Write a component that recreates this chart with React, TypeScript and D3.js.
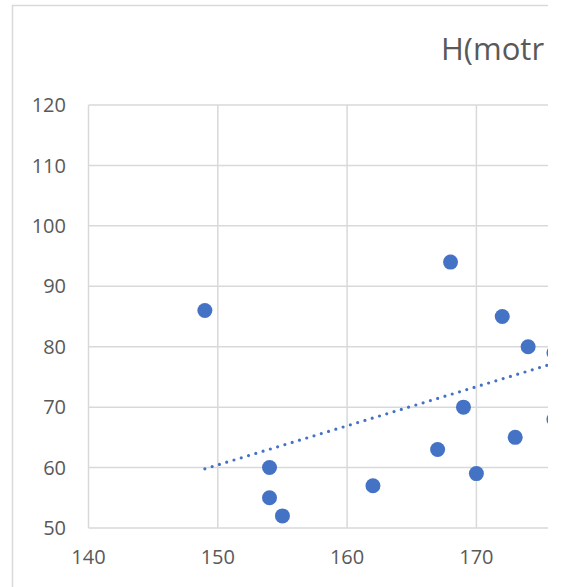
import React from 'react';
import * as d3 from 'd3';

// Scatter data (last two points are cut at the right edge)
const heights = [149, 154, 154, 155, 162, 167, 168, 169, 170, 172, 173, 174, 176, 176];
const weights = [86, 60, 55, 52, 57, 63, 94, 70, 59, 85, 65, 80, 79, 68];
const xTicks = [140, 150, 160, 170];
const yTicks = [50, 60, 70, 80, 90, 100, 110, 120];
const trendFrom = [149, 59.8];
const trendSlope = 0.647;
const title = 'H(motr';

const W = 565;
const H = 587;
const clipRight = 548;

const App = () => {
  const x = d3.scaleLinear().domain([140, 180]).range([88.5, 605.7]);
  const y = d3.scaleLinear().domain([50, 120]).range([528, 105]);

  const trendX = [trendFrom[0], 180];
  const line = d3.line<number>()
    .x(d => x(d))
    .y(d => y(trendFrom[1] + trendSlope * (d - trendFrom[0])));

  const font = "'Open Sans', 'Liberation Sans', sans-serif";

  return (
    <div style={{ position: 'fixed', left: 0, top: 0 }}>
      <svg width={W} height={H} style={{ display: 'block', background: 'white' }}>
        <defs>
          <clipPath id="chartClip">
            <rect x={0} y={0} width={clipRight} height={H} />
          </clipPath>
        </defs>
        <g clipPath="url(#chartClip)">
          {/* chart frame */}
          <path d={`M${W + 50},5.5 H12.5 V${H + 10}`} fill="none" stroke="#d9d9d9" strokeWidth={1.5} />

          <text x={441} y={60} fontFamily={font} fontSize={31} fill="#595959">{title}</text>

          {/* gridlines */}
          {yTicks.map(t => (
            <line key={'gy' + t} x1={x(140)} x2={x(180)} y1={y(t)} y2={y(t)}
              stroke="#d9d9d9" strokeWidth={1.5} />
          ))}
          {xTicks.map(t => (
            <line key={'gx' + t} x1={x(t)} x2={x(t)} y1={y(120)} y2={y(50)}
              stroke="#d9d9d9" strokeWidth={1.5} />
          ))}

          {/* tick labels */}
          {yTicks.map(t => (
            <text key={'ly' + t} x={66} y={y(t)} dy="0.36em" textAnchor="end"
              fontFamily={font} fontSize={20} fill="#595959">{t}</text>
          ))}
          {xTicks.map(t => (
            <text key={'lx' + t} x={x(t)} y={564} textAnchor="middle"
              fontFamily={font} fontSize={20} fill="#595959">{t}</text>
          ))}

          {/* trendline */}
          <path d={line(trendX) || ''} fill="none" stroke="#4472C4" strokeWidth={3.2}
            strokeLinecap="round" strokeDasharray="0 7.6" />

          {/* points */}
          {heights.map((h, i) => (
            <circle key={'p' + i} cx={x(h)} cy={y(weights[i])} r={7.5} fill="#4472C4" />
          ))}
        </g>
      </svg>
    </div>
  );
};

export default App;
